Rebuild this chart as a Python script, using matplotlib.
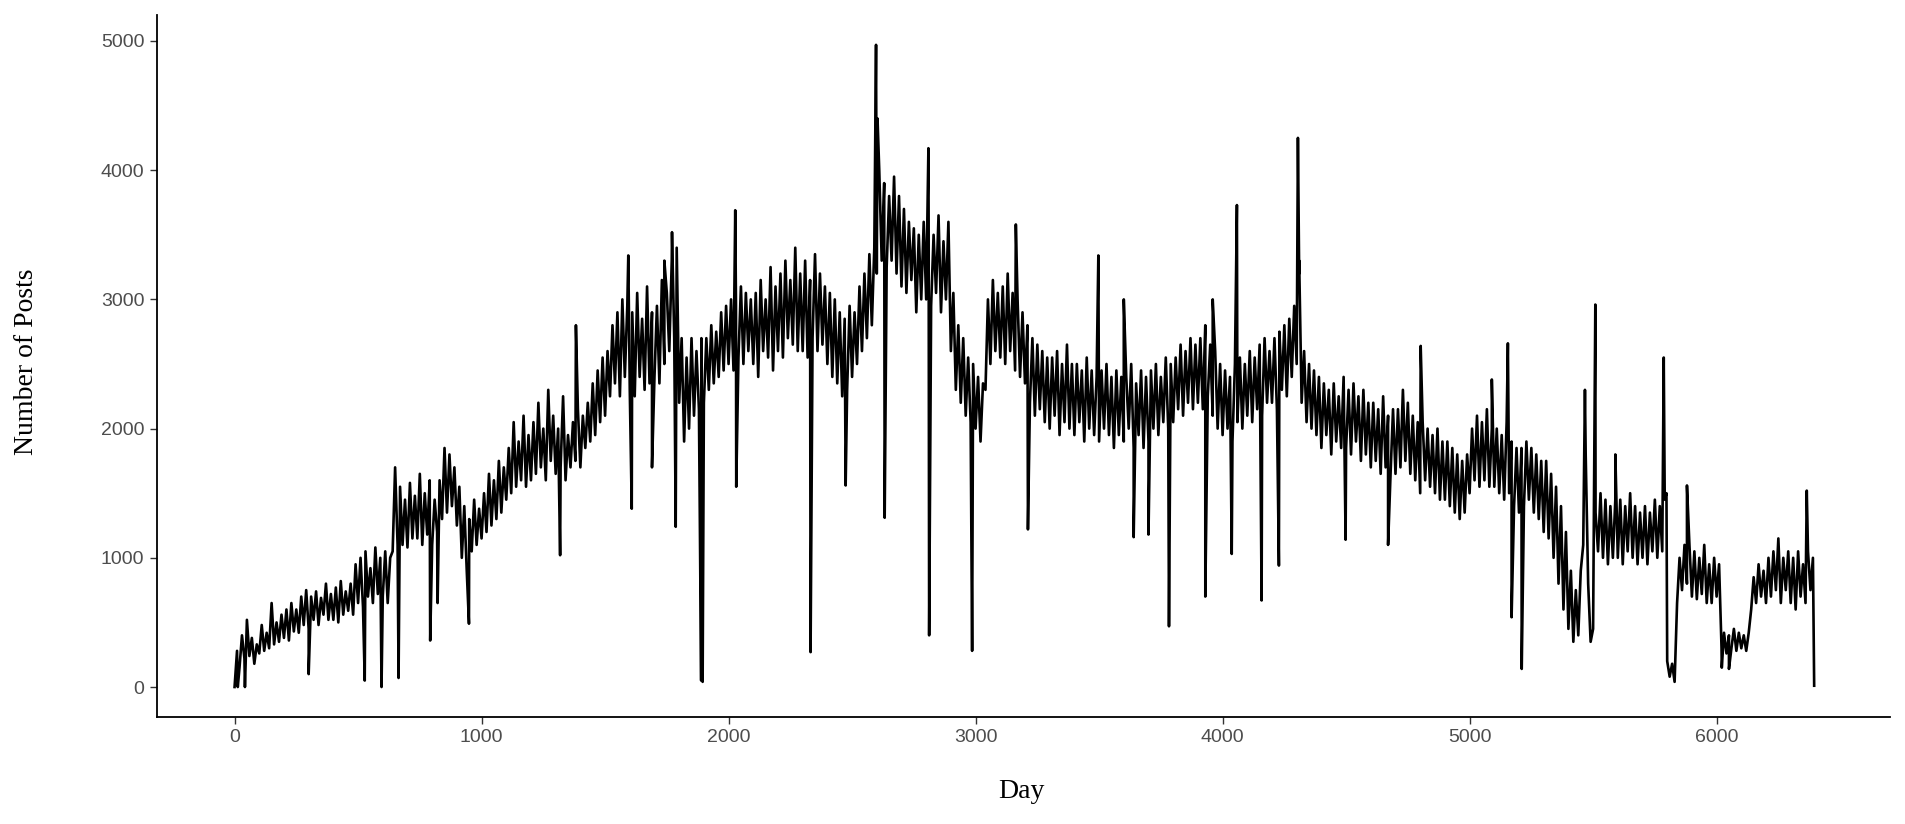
import numpy as np
import matplotlib
matplotlib.use("Agg")
import matplotlib.pyplot as plt

# posts read every 10 days; one row = 100 days (row label = first day)
posts_10d = [
    0, 280, 150, 400, 220, 520, 240, 380, 180, 330,              # 0
    260, 480, 280, 420, 300, 650, 330, 500, 350, 560,            # 100
    380, 600, 360, 650, 430, 600, 420, 700, 480, 750,            # 200
    450, 700, 520, 740, 480, 690, 560, 800, 520, 720,            # 300
    520, 770, 500, 820, 560, 740, 590, 800, 560, 950,            # 400
    650, 1000, 620, 1050, 700, 920, 650, 1080, 720, 1000,        # 500
    700, 1050, 650, 1000, 1050, 1700, 1100, 1550, 1100, 1450,    # 600
    1080, 1580, 1150, 1480, 1150, 1650, 1100, 1500, 1180, 1600,  # 700
    1100, 1450, 1200, 1600, 1300, 1850, 1350, 1800, 1400, 1700,  # 800
    1250, 1550, 1000, 1400, 900, 1300, 1050, 1450, 1100, 1380,   # 900
    1150, 1500, 1200, 1650, 1250, 1600, 1300, 1750, 1350, 1700,  # 1000
    1450, 1850, 1500, 2050, 1550, 1900, 1600, 2100, 1550, 1950,  # 1100
    1600, 2050, 1650, 2200, 1700, 2000, 1600, 2300, 1750, 2100,  # 1200
    1650, 2000, 1700, 2250, 1600, 1950, 1700, 2050, 1750, 2150,  # 1300
    1700, 2100, 1850, 2200, 1900, 2350, 1950, 2450, 2050, 2550,  # 1400
    2100, 2600, 2250, 2800, 2350, 2900, 2250, 3000, 2400, 2950,  # 1500
    2300, 2900, 2250, 3050, 2400, 2850, 2300, 3100, 2350, 2900,  # 1600
    2400, 2950, 2350, 3150, 2500, 3050, 2600, 3300, 2700, 3400,  # 1700
    2200, 2700, 1900, 2550, 2000, 2700, 2100, 2600, 2150, 2700,  # 1800
    2200, 2700, 2300, 2800, 2350, 2750, 2400, 2900, 2450, 2950,  # 1900
    2500, 3000, 2450, 2950, 2550, 3100, 2500, 3050, 2600, 3000,  # 2000
    2500, 3050, 2400, 3150, 2600, 3000, 2550, 3250, 2450, 3100,  # 2100
    2600, 3200, 2550, 3300, 2700, 3150, 2650, 3400, 2600, 3200,  # 2200
    2600, 3300, 2550, 3150, 2700, 3350, 2600, 3200, 2650, 3100,  # 2300
    2500, 3050, 2400, 3000, 2350, 2900, 2250, 2850, 2300, 2950,  # 2400
    2400, 2900, 2500, 3100, 2600, 3200, 2700, 3350, 2800, 3400,  # 2500
    3200, 4000, 3300, 3900, 3250, 3800, 3300, 3950, 3200, 3800,  # 2600
    3100, 3700, 3050, 3600, 3150, 3550, 2900, 3500, 3000, 3600,  # 2700
    3000, 3550, 2950, 3500, 3050, 3650, 2900, 3450, 3000, 3600,  # 2800
    2600, 3050, 2300, 2800, 2200, 2700, 2100, 2550, 2050, 2500,  # 2900
    2000, 2400, 1900, 2350, 2300, 3000, 2500, 3150, 2600, 3050,  # 3000
    2550, 3100, 2500, 3200, 2600, 3050, 2450, 3000, 2400, 2900,  # 3100
    2350, 2800, 2200, 2700, 2100, 2650, 2150, 2600, 2050, 2550,  # 3200
    2000, 2550, 2100, 2600, 1950, 2500, 2050, 2650, 2000, 2500,  # 3300
    1950, 2500, 2050, 2450, 1900, 2550, 2000, 2450, 1950, 2400,  # 3400
    1900, 2450, 2000, 2500, 1950, 2400, 1850, 2450, 1950, 2400,  # 3500
    1900, 2400, 2000, 2500, 1850, 2350, 1950, 2450, 1850, 2400,  # 3600
    1900, 2450, 2000, 2500, 1950, 2400, 2050, 2550, 2000, 2500,  # 3700
    2050, 2550, 2150, 2650, 2100, 2600, 2200, 2700, 2150, 2650,  # 3800
    2200, 2700, 2150, 2800, 2250, 2650, 2100, 2600, 2000, 2500,  # 3900
    1950, 2450, 2000, 2400, 1900, 2500, 2050, 2550, 2000, 2500,  # 4000
    2100, 2600, 2050, 2550, 2150, 2650, 2100, 2700, 2200, 2600,  # 4100
    2200, 2700, 2150, 2750, 2300, 2800, 2250, 2850, 2400, 2950,  # 4200
    2500, 3200, 2200, 2600, 2050, 2500, 2000, 2450, 1950, 2400,  # 4300
    1850, 2350, 1950, 2300, 1800, 2350, 1900, 2250, 1850, 2400,  # 4400
    1850, 2300, 1800, 2350, 1900, 2250, 1750, 2300, 1800, 2200,  # 4500
    1700, 2200, 1750, 2150, 1650, 2250, 1700, 2100, 1650, 2150,  # 4600
    1650, 2150, 1700, 2300, 1750, 2200, 1650, 2100, 1600, 2050,  # 4700
    1500, 2050, 1600, 2000, 1550, 1950, 1500, 2000, 1450, 1900,  # 4800
    1450, 1900, 1400, 1850, 1350, 1800, 1300, 1750, 1350, 1800,  # 4900
    1500, 2000, 1600, 2100, 1550, 2050, 1600, 2150, 1550, 2000,  # 5000
    1550, 2000, 1500, 1950, 1450, 2050, 1500, 1900, 1400, 1850,  # 5100
    1350, 1850, 1400, 1900, 1450, 1850, 1350, 1800, 1300, 1750,  # 5200
    1200, 1750, 1150, 1650, 1000, 1550, 800, 1400, 600, 1200,    # 5300
    450, 900, 350, 750, 400, 900, 1100, 1800, 800, 350,          # 5400
    450, 1350, 1050, 1500, 1000, 1450, 950, 1400, 1000, 1450,    # 5500
    1000, 1450, 950, 1400, 1050, 1500, 1000, 1400, 950, 1350,    # 5600
    1000, 1400, 950, 1350, 1050, 1450, 1000, 1400, 1050, 1450,   # 5700
    200, 80, 180, 40, 650, 1000, 750, 1100, 800, 1100,           # 5800
    700, 1050, 680, 1000, 720, 1100, 650, 950, 650, 1000,        # 5900
    700, 950, 300, 420, 260, 400, 300, 450, 280, 420,            # 6000
    300, 400, 280, 420, 600, 850, 650, 950, 700, 900,            # 6100
    650, 1000, 700, 1050, 750, 1150, 650, 1000, 750, 1050,       # 6200
    650, 1000, 600, 1050, 700, 950, 650, 1050, 750, 1000,        # 6300
]

# single-day spikes and drops
spike_day = [13, 42, 300, 527, 595, 664, 792, 822, 949, 1318, 1382, 1594, 1608,
             1690, 1740, 1771, 1786, 1889, 1892, 1895, 2027, 2031, 2332, 2474,
             2597, 2603, 2632, 2809, 2812, 2986, 3163, 3212, 3497, 3600, 3640,
             3700, 3783, 3930, 3960, 4037, 4058, 4158, 4228, 4305, 4310, 4498,
             4670, 4802, 5090, 5155, 5170, 5211, 5467, 5509, 5590, 5786, 5797,
             5880, 6021, 6050, 6365, 6395]
spike_val = [0, 0, 100, 50, 0, 70, 360, 650, 490, 1020, 2800, 3340, 1380,
             1700, 3300, 3520, 1240, 50, 80, 40, 3690, 1550, 270, 1560,
             4970, 4400, 1310, 4170, 400, 280, 3580, 1220, 3340, 3000, 1160,
             1180, 470, 700, 3000, 1030, 3730, 670, 940, 4250, 3300, 1140,
             1100, 2640, 2380, 2660, 540, 140, 2300, 2960, 1800, 2550, 1500,
             1560, 150, 140, 1520, 10]

days = np.concatenate([np.arange(len(posts_10d)) * 10.0,
                       np.array(spike_day, dtype=float)])
posts = np.concatenate([posts_10d, spike_val]).astype(float)
order = np.argsort(days, kind="stable")
days = days[order]
posts = posts[order]

fig = plt.figure(figsize=(19.06, 8.24), dpi=100)
ax = fig.add_axes([157 / 1906, 107 / 824, (1890 - 157) / 1906, (717 - 15) / 824])

ax.plot(days, posts, color="black", lw=1.9)

ax.set_xlim(-314, 6702)
ax.set_ylim(-232, 5201)
ax.set_xticks(range(0, 7000, 1000))
ax.set_yticks(range(0, 6000, 1000))

for s in ["top", "right"]:
    ax.spines[s].set_visible(False)
for s in ["left", "bottom"]:
    ax.spines[s].set_linewidth(1.3)
    ax.spines[s].set_color("black")

ax.tick_params(axis="both", length=5, width=1.0, color="#333333",
               labelcolor="#4D4D4D", labelsize=14, pad=4)
for lab in ax.get_xticklabels() + ax.get_yticklabels():
    lab.set_fontfamily("Liberation Sans")

fig.text(1021 / 1906, 1 - 792 / 824, "Day", fontsize=20,
         family="Liberation Serif", ha="center", va="center")
fig.text(27 / 1906, 1 - 362 / 824, "Number of Posts", fontsize=20,
         family="Liberation Serif", rotation=90, ha="center", va="center")

fig.savefig("out.png", dpi=100)
